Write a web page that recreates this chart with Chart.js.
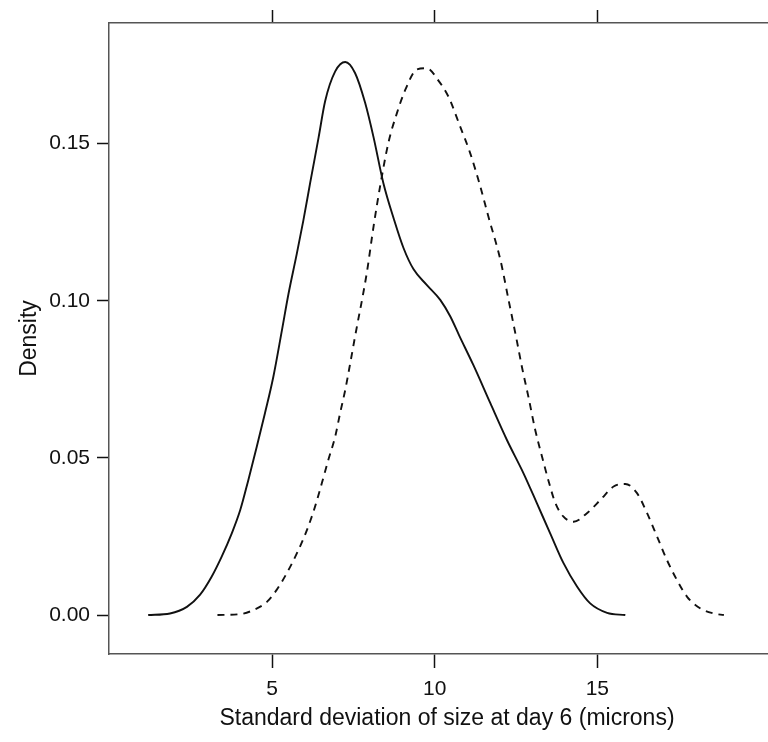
<!DOCTYPE html>
<html>
<head>
<meta charset="utf-8">
<script src="https://cdn.jsdelivr.net/npm/chart.js@4/dist/chart.umd.min.js"></script>
<style>
  html, body { margin: 0; padding: 0; background: #fff; overflow: hidden; }
  #wrap { width: 785px; height: 742px; }
</style>
</head>
<body>
<div id="wrap"><canvas id="chart_density"></canvas></div>
<script>
// curva continua (densidad 1)
const solidX = [1.19, 1.86, 2.38, 2.78, 3.14, 3.45, 3.76, 4.02, 4.27, 4.53, 4.78, 5.04, 5.30, 5.50, 5.76, 5.96, 6.17, 6.43, 6.63, 6.94, 7.25, 7.55, 7.86, 8.12, 8.42, 8.75, 9.04, 9.35, 9.76, 10.17, 10.48, 10.75, 11.19, 11.71, 12.22, 12.73, 13.14, 13.55, 13.96, 14.38, 14.78, 15.30, 15.86]
const solidY = [0, 0.0005, 0.0026, 0.0064, 0.0122, 0.0186, 0.026, 0.0334, 0.043, 0.0536, 0.0642, 0.0759, 0.0905, 0.102, 0.115, 0.1255, 0.1375, 0.152, 0.1635, 0.173, 0.176, 0.1725, 0.163, 0.152, 0.1375, 0.1258, 0.1168, 0.110, 0.105, 0.1003, 0.095, 0.089, 0.0795, 0.0674, 0.0557, 0.0451, 0.0356, 0.026, 0.0165, 0.009, 0.0037, 0.0007, 0]

// curva discontinua (densidad 2)
const dashedX = [3.32, 4.02, 4.43, 4.84, 5.14, 5.45, 5.76, 6.07, 6.32, 6.53, 6.73, 6.94, 7.09, 7.25, 7.40, 7.55, 7.91, 8.12, 8.32, 8.58, 8.84, 9.09, 9.45, 9.76, 10.12, 10.42, 10.78, 11.09, 11.40, 11.65, 12.02, 12.27, 12.53, 12.68, 12.89, 13.09, 13.30, 13.52, 13.71, 13.96, 14.27, 14.68, 15.09, 15.50, 15.86, 16.22, 16.53, 16.84, 17.14, 17.45, 17.76, 18.17, 18.58, 18.89]
const dashedY = [0, 0.0003, 0.0016, 0.0042, 0.008, 0.0133, 0.0196, 0.027, 0.0345, 0.042, 0.0494, 0.0568, 0.0642, 0.0717, 0.080, 0.0886, 0.1088, 0.1237, 0.1364, 0.1505, 0.1598, 0.167, 0.1736, 0.174, 0.170, 0.165, 0.1555, 0.147, 0.1364, 0.1268, 0.113, 0.1003, 0.087, 0.0790, 0.0690, 0.0589, 0.0504, 0.0419, 0.0356, 0.0313, 0.0297, 0.0324, 0.0366, 0.0409, 0.0417, 0.0388, 0.0324, 0.0249, 0.0175, 0.0111, 0.0058, 0.0021, 0.0005, 0]

const xTicks = [5, 10, 15]
const xTickLabels = ['5', '10', '15']
const yTicks = [0, 0.05, 0.10, 0.15]
const yTickLabels = ['0.00', '0.05', '0.10', '0.15']

const xTitle = 'Standard deviation of size at day 6 (microns)'
const yTitle = 'Density'

const fuente = 'Liberation Sans, Arial, Helvetica, sans-serif'

function puntos(xs, ys) {
    return xs.map((x, i) => ({ x: x, y: ys[i] }))
}

let chart = document.querySelector('#chart_density')
const density_chart = new Chart(chart, {
    type: 'line',
    data: {
        datasets: [
            {
                data: puntos(solidX, solidY),
                borderColor: '#111',
                borderWidth: 1.9,
                cubicInterpolationMode: 'monotone',
                pointRadius: 0,
            },
            {
                data: puntos(dashedX, dashedY),
                borderColor: '#111',
                borderWidth: 1.9,
                borderDash: [7, 6],
                cubicInterpolationMode: 'monotone',
                pointRadius: 0,
            },
        ],
    },
    options: {
        responsive: true,
        maintainAspectRatio: false,
        animation: false,
        layout: { padding: 0 },
        plugins: {
            legend: { display: false },
            tooltip: { enabled: false },
        },
        scales: {
            x: {
                type: 'linear',
                position: 'bottom',
                min: -0.015,
                max: 20.77,
                afterBuildTicks: (s) => { s.ticks = xTicks.map(v => ({ value: v })) },
                afterFit: (s) => { s.height = 88 },
                ticks: {
                    color: '#111',
                    font: { family: fuente, size: 21 },
                    padding: 9,
                    maxRotation: 0,
                    callback: (v) => xTickLabels[xTicks.indexOf(v)],
                },
                grid: {
                    drawOnChartArea: false,
                    drawTicks: true,
                    tickLength: 14,
                    tickColor: '#111',
                    tickWidth: 1.5,
                },
                border: { display: true, color: '#555', width: 1.5 },
                title: {
                    display: true,
                    text: xTitle,
                    color: '#111',
                    font: { family: fuente, size: 23 },
                    padding: { top: 0, bottom: 10 },
                },
            },
            xTop: {
                type: 'linear',
                position: 'top',
                min: -0.015,
                max: 20.77,
                afterBuildTicks: (s) => { s.ticks = xTicks.map(v => ({ value: v })) },
                afterFit: (s) => { s.height = 23 },
                ticks: { display: false },
                grid: {
                    drawOnChartArea: false,
                    drawTicks: true,
                    tickLength: 13,
                    tickColor: '#111',
                    tickWidth: 1.5,
                },
                border: { display: true, color: '#555', width: 1.5 },
            },
            y: {
                type: 'linear',
                position: 'left',
                min: -0.0124,
                max: 0.1884,
                afterBuildTicks: (s) => { s.ticks = yTicks.map(v => ({ value: v })) },
                afterFit: (s) => { s.width = 109 },
                ticks: {
                    color: '#111',
                    font: { family: fuente, size: 21 },
                    padding: 7,
                    callback: (v) => yTickLabels[yTicks.indexOf(v)],
                },
                grid: {
                    drawOnChartArea: false,
                    drawTicks: true,
                    tickLength: 12,
                    tickColor: '#111',
                    tickWidth: 1.5,
                },
                border: { display: true, color: '#555', width: 1.5 },
                title: {
                    display: true,
                    text: yTitle,
                    color: '#111',
                    font: { family: fuente, size: 23 },
                    padding: { top: 16, bottom: 0 },
                },
            },
        },
    },
})
</script>
</body>
</html>
